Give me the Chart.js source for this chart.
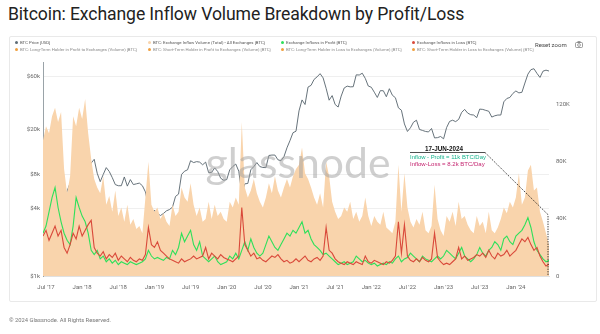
<!DOCTYPE html>
<html><head><meta charset="utf-8">
<script src="https://cdn.jsdelivr.net/npm/chart.js@4.4.1/dist/chart.umd.min.js"></script>
<style>
html,body{margin:0;padding:0;background:#fff;width:600px;height:334px;overflow:hidden;font-family:Roboto,"Noto Sans",sans-serif;}
#title{position:absolute;left:8px;top:4px;font-size:17.6px;color:#222;white-space:nowrap;letter-spacing:-0.1px}
#box{position:absolute;left:9px;top:36px;width:586px;height:264px;border:1px solid #e9e9e9;border-radius:2px}
#c{position:absolute;left:0;top:0}
.lg{position:absolute;font-size:4.3px;white-space:nowrap;line-height:5px}
.lg i{display:inline-block;width:3px;height:3px;border-radius:50%;margin-right:2px;vertical-align:middle}
#reset{position:absolute;left:535px;top:41px;font-size:6px;color:#444}
#cam{position:absolute;left:575px;top:41px}
#foot{position:absolute;left:9px;top:317px;font-size:5.8px;color:#777}
</style></head>
<body>
<div id="title">Bitcoin: Exchange Inflow Volume Breakdown by Profit/Loss</div>
<div id="box"></div>
<canvas id="c" width="600" height="334"></canvas>
<div id="legend"></div>
<div id="reset">Reset zoom</div>
<svg id="cam" width="8" height="7" viewBox="0 0 8 7"><rect x="0.5" y="1.5" width="7" height="5" rx="1" fill="none" stroke="#777" stroke-width="0.7"/><circle cx="4" cy="4" r="1.4" fill="none" stroke="#777" stroke-width="0.7"/><rect x="2.5" y="0.3" width="3" height="1.3" fill="#777"/></svg>
<div id="foot">© 2024 Glassnode. All Rights Reserved.</div>
<script>
// semi-monthly samples from mid-Jun 2017 to mid-Jun 2024 (x = month index since Jan 2017)
const startMonth = 5.5;
const stepMonth = 0.5;

const btcPrice = [
2500,2450,2000,2750,4200,4700,3700,4400,5700,6700,7300,10800,17500,
13500,13800,9100,10100,10900,8200,6900,8000,9200,8500,7500,6500,6350,6350,7600,6300,7200,6500,6600,6700,6350,5600,4200,3250,
3850,3600,3450,3600,3800,3900,4100,5100,5350,8000,8550,8800,10600,10200,10400,10300,9750,10300,8300,8350,9150,8500,7400,7100,
7200,8800,9400,9900,8550,5400,6600,6650,8800,9400,10200,9400,9230,9200,11800,11900,11900,10800,10600,11500,13800,16000,18800,19400,
29400,36800,33500,47900,49600,56000,59000,63000,57800,46700,36600,40200,33500,31800,39800,47000,48800,48100,48200,61500,61300,63600,57200,48900,
47700,43100,38700,44500,44400,39300,46300,40500,38500,31300,29800,22500,19300,20800,23300,24300,20100,19700,19300,19100,20500,16900,17000,17400,
16600,20900,23700,24300,23600,24700,28500,30300,28100,27200,27000,25600,30500,30300,29700,29200,25900,26600,27000,27000,35400,37900,38700,42000,
44200,42500,43000,52000,62400,68400,69700,63400,58300,66300,67700,66500
];

const inflowTotal = [
95,105,100,112,118,108,115,75,58,70,112,105,118,
110,124,100,82,68,62,58,70,50,56,45,60,42,48,38,50,36,40,33,35,30,55,80,50,
45,48,40,44,38,35,50,42,45,62,55,52,65,50,42,48,38,40,52,40,50,42,45,40,
38,52,48,55,50,108,62,55,60,68,58,52,48,55,65,58,70,60,55,62,68,62,70,75,
78,90,72,68,62,55,50,58,48,80,70,52,45,40,42,48,45,52,40,45,38,42,55,42,
35,42,38,36,45,34,32,30,38,78,45,72,48,38,34,40,36,45,32,30,35,64,40,32,
28,42,38,45,35,52,40,42,36,32,30,42,35,38,30,45,32,30,34,40,48,44,52,48,
55,72,50,55,74,78,60,62,45,38,30,22
];

const inflowProfit = [
30,35,45,55,62,48,38,30,25,22,35,55,48,
42,38,30,18,15,18,12,14,10,12,9,11,8,10,9,8,10,9,8,9,10,12,18,14,
12,13,12,11,13,12,18,15,20,30,24,28,32,22,18,24,14,12,10,12,14,10,8,9,
10,14,12,16,12,18,24,18,26,20,16,14,16,22,28,24,20,18,22,26,30,28,32,30,
34,38,30,32,26,22,20,18,15,16,14,12,10,8,9,10,8,9,10,14,12,10,11,9,
8,9,7,8,9,8,10,9,12,14,10,12,13,16,14,12,10,14,12,11,10,12,14,12,
14,18,16,14,12,16,20,14,12,10,12,15,20,16,14,18,20,24,22,18,26,28,24,22,
28,30,32,36,41,34,24,18,15,12,10,11
];

const inflowLoss = [
28,32,25,30,35,28,32,20,16,22,30,26,35,
28,32,36,39,20,16,14,17,12,15,13,16,11,14,12,10,13,11,10,12,11,15,34,22,
20,24,18,16,14,12,11,10,9,12,10,11,12,14,12,13,14,20,12,16,14,12,15,13,
12,11,10,12,14,48,22,18,14,16,12,13,11,10,12,14,13,15,12,10,11,9,10,12,
10,12,14,11,10,12,13,11,14,34,18,16,12,10,9,8,10,9,8,10,9,8,14,10,
9,11,10,9,8,10,9,11,14,38,16,36,14,11,10,12,10,13,11,10,12,30,13,10,
8,9,8,10,12,20,12,14,11,12,13,15,14,16,13,18,14,12,16,14,15,18,14,16,
18,22,26,24,27,22,18,20,14,10,7,8.2
];

const leftTicks = [1000,4000,8000,20000,60000];
const rightTicks = [0,40000,80000,120000];
const xTickMonths = [6,12,18,24,30,36,42,48,54,60,66,72,78,84];

const legendRows = [
  [["BTC Price [USD]","#5d6b75"],["BTC: Exchange Inflow Volume (Total) - All Exchanges [BTC]","#f9d4ac"],["Exchange Inflows in Profit [BTC]","#2ee05a"],["Exchange Inflows in Loss [BTC]","#d9493a"]],
  [["BTC: Long-Term Holder in Profit to Exchanges (Volume) [BTC]","#f0a040"],["BTC: Short-Term Holder in Profit to Exchanges (Volume) [BTC]","#f0a040"],["BTC: Long-Term Holder in Loss to Exchanges (Volume) [BTC]","#f0a040"],["BTC: Short-Term Holder in Loss to Exchanges (Volume) [BTC]","#f0a040"]]
];

// legend
const lgCols=[15,148,281,412], lgTops=[40,47];
const lg=document.getElementById('legend');
legendRows.forEach((row,r)=>row.forEach((it,c)=>{
  const d=document.createElement('div');d.className='lg';
  d.style.left=lgCols[c]+'px';d.style.top=lgTops[r]+'px';d.style.color=r?'#8a8a8a':'#555';
  d.innerHTML='<i style="background:'+it[1]+'"></i>'+it[0];lg.appendChild(d);
}));

const toXY = arr => arr.map((v,i)=>({x:startMonth+i*stepMonth, y:v}));
const toXYk = arr => arr.map((v,i)=>({x:startMonth+i*stepMonth, y:v*1000}));

const tickFont={family:'Roboto, sans-serif', size:6};

const overlay={
  id:'overlay',
  afterDatasetsDraw(chart){
    const ctx=chart.ctx;
    ctx.save();
    let fs=44; ctx.font='400 '+fs+'px Lato, sans-serif';
    fs=fs*185/ctx.measureText('glassnode').width;
    ctx.font='400 '+fs+'px Lato, sans-serif';
    ctx.fillStyle='rgba(160,160,160,0.5)';ctx.textAlign='center';ctx.textBaseline='alphabetic';
    ctx.fillText('glassnode',298,178);
    ctx.restore();
  },
  afterDraw(chart){
    const ctx=chart.ctx, xs=chart.scales.x, y1=chart.scales.y1;
    ctx.save();
    const lastX=xs.getPixelForValue(startMonth+(inflowTotal.length-1)*stepMonth);
    ctx.fillStyle='#111';ctx.font='bold 6.3px Arial, sans-serif';ctx.textAlign='center';ctx.textBaseline='middle';
    ctx.fillText('17-JUN-2024',444,149);
    ctx.strokeStyle='#222';ctx.lineWidth=0.8;ctx.beginPath();ctx.moveTo(410,152.5);ctx.lineTo(485,152.5);ctx.stroke();
    ctx.textAlign='left';
    const fit=(t,w)=>{ctx.font='10px Arial';return 10*w/ctx.measureText(t).width;};
    let t1='Inflow - Profit = 11k BTC/Day', t2='Inflow-Loss = 8.2k BTC/Day';
    ctx.font=fit(t1,76)+'px Arial';ctx.fillStyle='#17b38c';ctx.fillText(t1,410,157);
    ctx.font=fit(t2,75)+'px Arial';ctx.fillStyle='#c4246f';ctx.fillText(t2,410,164.5);
    ctx.strokeStyle='#111';ctx.lineWidth=0.9;ctx.setLineDash([1.2,1.3]);
    ctx.beginPath();ctx.moveTo(485,152.5);ctx.lineTo(lastX-1,y1.getPixelForValue(43000));ctx.lineTo(lastX-1,y1.getPixelForValue(0));ctx.stroke();
    ctx.restore();
  }
};

new Chart(document.getElementById('c'),{
  type:'line',
  data:{datasets:[
    {label:'BTC Price [USD]',data:toXY(btcPrice),yAxisID:'y',borderColor:'#56636c',borderWidth:0.9,pointRadius:0,order:4,fill:false},
    {label:'Total',data:toXYk(inflowTotal),yAxisID:'y1',borderWidth:0,borderColor:'rgba(0,0,0,0)',backgroundColor:'#f9d4ac',pointRadius:0,fill:'origin',order:3},
    {label:'Profit',data:toXYk(inflowProfit),yAxisID:'y1',borderColor:'#2ee05a',borderWidth:1.1,pointRadius:0,fill:false,order:2},
    {label:'Loss',data:toXYk(inflowLoss),yAxisID:'y1',borderColor:'#d9493a',borderWidth:1.1,pointRadius:0,fill:false,order:1}
  ]},
  options:{
    responsive:false,animation:false,
    layout:{padding:{top:62,left:0,right:0,bottom:38}},
    plugins:{legend:{display:false},tooltip:{enabled:false}},
    scales:{
      x:{type:'linear',min:startMonth,max:startMonth+(inflowTotal.length-1)*stepMonth,
        afterBuildTicks:s=>{s.ticks=xTickMonths.map(v=>({value:v}));},
        afterFit:s=>{s.height=20;},
        ticks:{font:tickFont,color:'#666',padding:8,maxRotation:0,autoSkip:false,
          callback:v=>(v%12===6?'Jul':'Jan')+" '"+String(17+Math.floor(v/12)).padStart(2,'0')},
        grid:{display:false,drawTicks:false},border:{display:true,color:'#e0e0e0'}},
      y:{type:'logarithmic',position:'left',min:1000,max:80000,
        afterBuildTicks:s=>{s.ticks=leftTicks.map(v=>({value:v}));},
        afterFit:s=>{s.width=43;},
        ticks:{font:tickFont,color:'#666',padding:3,callback:v=>'$'+(v/1000)+'k'},
        grid:{color:'#efefef',drawTicks:false},border:{display:true,color:'#9aa3a8'}},
      y1:{type:'linear',position:'right',min:0,max:150000,
        afterBuildTicks:s=>{s.ticks=rightTicks.map(v=>({value:v}));},
        afterFit:s=>{s.width=51;},
        ticks:{font:tickFont,color:'#666',padding:7,callback:v=>v===0?'0':(v/1000)+'K'},
        grid:{display:false,drawTicks:false},border:{display:false}}
    }
  },
  plugins:[overlay]
});
</script>
</body></html>
